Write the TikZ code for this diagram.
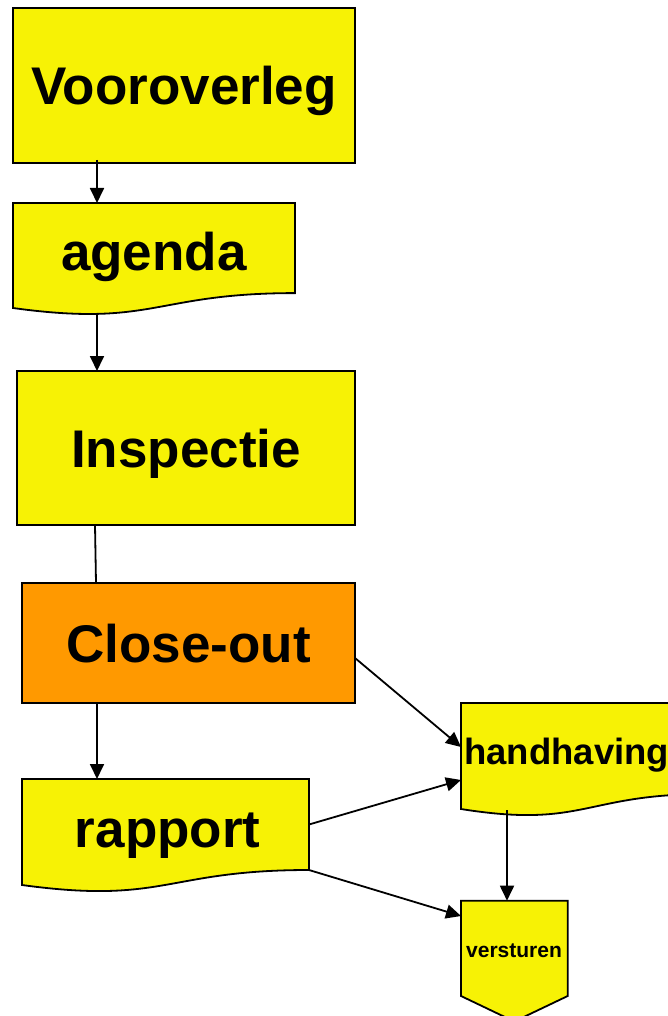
\documentclass[tikz,border=0pt]{standalone}
\usepackage{fontspec}
\setmainfont{Liberation Sans}
\usetikzlibrary{arrows.meta}
\definecolor{fy}{RGB}{247,242,5}
\definecolor{fo}{RGB}{255,153,0}
\begin{document}
\begin{tikzpicture}[x=1pt,y=-1pt,
  shp/.style={draw=black, line width=1.8pt, fill=fy, line join=miter},
  boxnode/.style={shp, rectangle, inner sep=0pt, font=\bfseries\fontsize{53}{60}\selectfont, text height=38pt, text depth=0pt},
  bigtxt/.style={inner sep=0pt, font=\bfseries\fontsize{53}{60}\selectfont},
  midtxt/.style={inner sep=0pt, font=\bfseries\fontsize{36.5}{42}\selectfont},
  smalltxt/.style={inner sep=0pt, font=\bfseries\fontsize{21}{25}\selectfont},
  con/.style={line width=1.8pt, -{Triangle[length=15pt,width=14pt]}},
  plain/.style={line width=1.8pt}]
\useasboundingbox (0,0) rectangle (668,1016);
\clip (0,0) rectangle (668,1016);

% rectangles
\node[boxnode, minimum width=342pt, minimum height=155pt] (voor) at (184,85.5) {Vooroverleg};
\node[boxnode, minimum width=338pt, minimum height=154pt] (insp) at (186,448) {Inspectie};
\node[boxnode, fill=fo, minimum width=333pt, minimum height=120pt] (close) at (188.5,643) {Close-out};

% document shapes
\draw[shp] (13,203) -- (295,203) -- (295,293.1) .. controls (154,293.1) and (154,327.5) .. (13,308) -- cycle;
\node[bigtxt, anchor=base] (agenda) at (153.8,270) {agenda};

\draw[shp] (22,779) -- (309,779) -- (309,870) .. controls (165.5,870) and (165.5,904.7) .. (22,885) -- cycle;
\node[bigtxt, anchor=base] (rapport) at (167.7,847.3) {rapport};

\draw[shp] (461,703) -- (707,703) -- (707,794) .. controls (584,794) and (584,828.7) .. (461,809) -- cycle;
\node[midtxt, anchor=base west] (handh) at (464,764) {handhaving};

% off-page connector
\draw[shp] (461,900.7) -- (567.7,900.7) -- (567.7,996) -- (514.3,1021.5) -- (461,996) -- cycle;
\node[smalltxt, anchor=base] (verst) at (514,957.7) {versturen};

% connector end points
\coordinate (voorB) at (97,160);
\coordinate (agT) at (97,203);
\coordinate (agB) at (97,314);
\coordinate (inspT) at (97,371);
\coordinate (inspB) at (95,525);
\coordinate (closeT) at (96,583);
\coordinate (closeB) at (97,703);
\coordinate (closeR) at (355,658);
\coordinate (rapT) at (97,779);
\coordinate (rapR1) at (309,824.5);
\coordinate (rapR2) at (309,870);
\coordinate (hhL1) at (461,747);
\coordinate (hhL2) at (461,780);
\coordinate (hhB) at (507,810);
\coordinate (vsT) at (507,900.7);
\coordinate (vsL) at (461,916);

\draw[con] (voorB) -- (agT);
\draw[con] (agB) -- (inspT);
\draw[plain] (inspB) -- (closeT);
\draw[con] (closeB) -- (rapT);
\draw[con] (closeR) -- (hhL1);
\draw[con] (rapR1) -- (hhL2);
\draw[con] (rapR2) -- (vsL);
\draw[con] (hhB) -- (vsT);
\end{tikzpicture}
\end{document}
